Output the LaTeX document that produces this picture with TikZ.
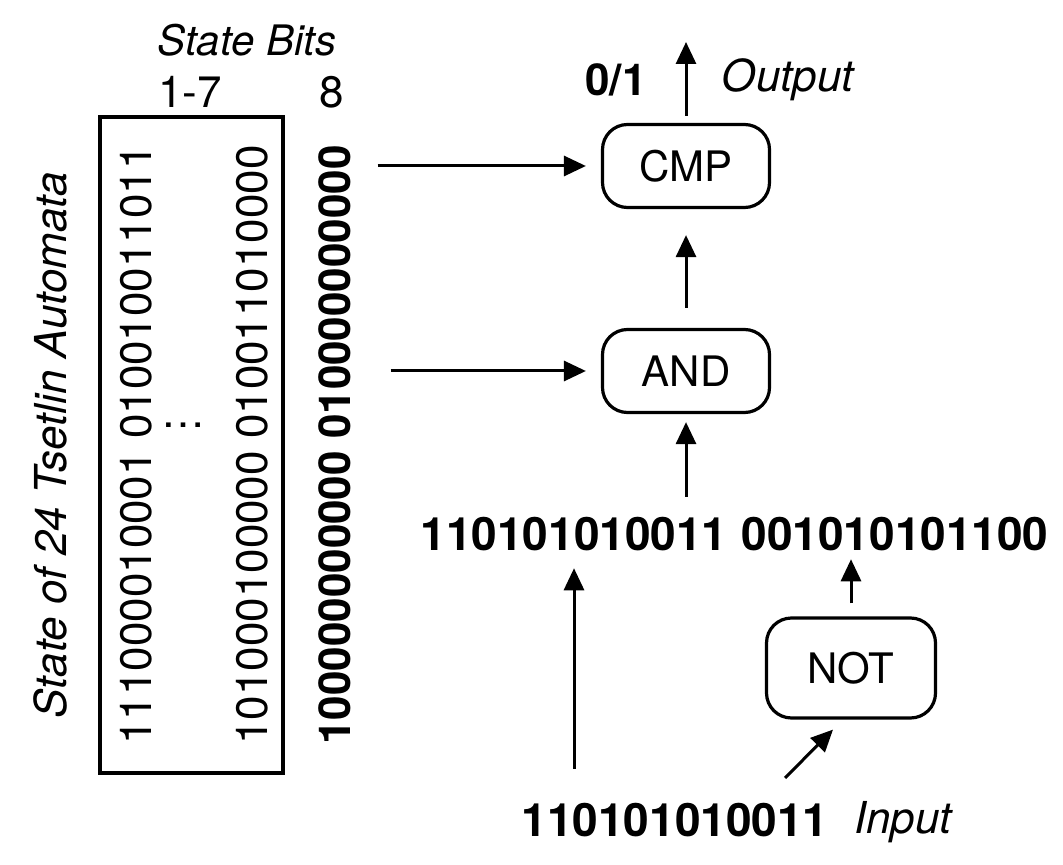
\documentclass[tikz,border=0pt]{standalone}
\usepackage{fontspec}
\setmainfont{TeX Gyre Heros}
\usetikzlibrary{arrows.meta,positioning}
\tikzset{gate/.style={draw,line width=1.6pt,rounded corners=12.5pt,minimum width=83.5pt,minimum height=41.5pt,inner sep=0pt},flow/.style={-{Triangle[length=11pt,width=10pt]},line width=1.5pt},bits/.style={font=\fontsize{23}{26}\selectfont\bfseries},slant/.style={font=\fontsize{22}{26}\selectfont\itshape}}

\begin{document}
\begin{tikzpicture}[x=0.5pt,y=-0.5pt,inner sep=0pt,font=\fontsize{22}{26}\selectfont]
\useasboundingbox (0,0) rectangle (1063,865);
% memory of the automata
\node[slant,font=\fontsize{21}{25}\selectfont\itshape] (title) at (247,40) {State Bits};
\node (low) at (190,92) {1-7};
\node (high) at (332,92) {8};
\node[draw,line width=1.75pt,minimum width=91.5pt,minimum height=328pt] (states) at (191.5,445) {};
\node[rotate=90] (colA) at (136,445) {111000010001 010010011011};
\node[rotate=90] (colB) at (252,445) {101000100000 010011010000};
\node[rotate=90,bits,font=\fontsize{22}{26}\selectfont\bfseries] (colC) at (335,445) {100000000000 010000000000};
\node (dots) at (183,425) {\dots};
\node[rotate=90,slant] (side) at (50,445) {State of 24 Tsetlin Automata};
% clause logic
\node[gate,font=\fontsize{21}{25}\selectfont] (cmp) at (686,166) {CMP};
\node[gate,font=\fontsize{21}{25}\selectfont] (and) at (686,371) {AND};
\node[gate,minimum width=84.5pt,minimum height=50pt,font=\fontsize{21}{25}\selectfont] (not) at (851,668) {NOT};
\node[bits,font=\fontsize{22}{26}\selectfont\bfseries] (res) at (616,80) {0/1};
\node[slant] (outlbl) at (788,80) {Output};
\node[bits] (bitsA) at (574,534) {110101010011};
\node[bits] (bitsB) at (895,534) {001010101100};
\node[bits] (inbits) at (675,820) {110101010011};
\node[slant] (inlbl) at (903,822) {Input};
\coordinate (exit) at (686,42);
\coordinate (feed) at (785,778);
\draw[flow,shorten <=13pt,shorten >=7.5pt] (colC.south |- cmp) -- (cmp.west);
\draw[flow,shorten <=19.5pt,shorten >=7.5pt] (colC.south |- and) -- (and.west);
\draw[flow,shorten <=3.5pt] (cmp.north) -- (exit);
\draw[flow,shorten <=10pt,shorten >=13pt] (and) -- (cmp);
\draw[flow,shorten <=10pt,shorten >=4pt] (bitsA.north -| and) -- (and.south);
\draw[flow,shorten <=6.5pt,shorten >=4pt] (not.north) -- (not.north |- bitsB.south);
\draw[flow,shorten <=17pt,shorten >=8.5pt] (inbits.north -| bitsA) -- (bitsA.south);
\draw[flow] (feed) -- ([xshift=-9pt,yshift=-5pt]not.south);
\end{tikzpicture}
\end{document}
